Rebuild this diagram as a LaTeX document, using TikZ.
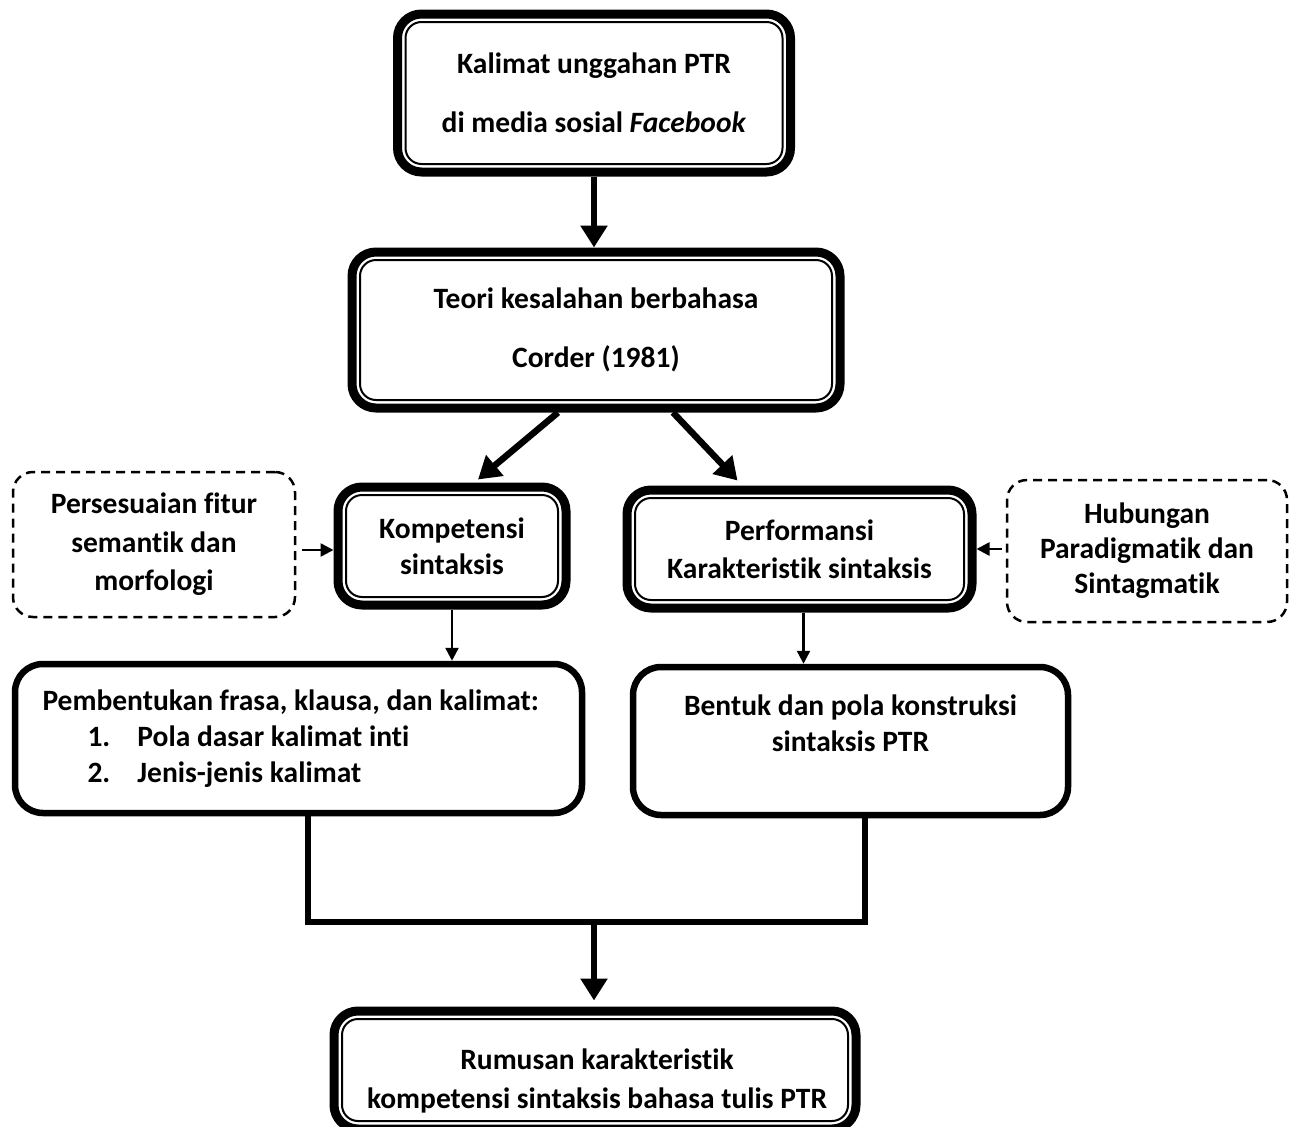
\documentclass[tikz,border=0pt]{standalone}
\usepackage{fontspec}
\setmainfont{Carlito}[Ligatures={NoCommon}]
\usetikzlibrary{arrows.meta,calc}
\newcommand\myfs[1]{\fontsize{29.5}{#1}\selectfont\bfseries}
\begin{document}
\begin{tikzpicture}[x=1pt,y=-1pt,
  dbl/.style={draw, line width=9pt, rounded corners=24pt, inner sep=0pt, align=center},
  plainbox/.style={draw, line width=6.5pt, rounded corners=28pt, inner sep=0pt},
  dashbox/.style={draw, line width=2.5pt, dash pattern=on 9pt off 6pt, rounded corners=20pt, inner sep=0pt, align=center},
  innerline/.style={line width=2pt, rounded corners=16pt},
  bigarrow/.style={line width=6.5pt, -{Triangle[length=22pt,width=26pt]}},
  smallarrow/.style={line width=2.5pt, -{Triangle[length=13pt,width=13pt]}},
  bracket/.style={line width=6.5pt},
]
\useasboundingbox (0,0) rectangle (1299,1127);

% boxes
\node[dbl, minimum width=393pt, minimum height=158pt, font=\myfs{59}] (k1) at (594,93)
  {Kalimat unggahan PTR\\di media sosial \textit{Facebook}};
\node[dbl, minimum width=488pt, minimum height=156pt, font=\myfs{59}] (k2) at (596,330)
  {Teori kesalahan berbahasa\\Corder (1981)};
\node[dbl, minimum width=228pt, minimum height=118pt, font=\myfs{36}] (kom) at (452,546)
  {Kompetensi\\sintaksis};
\node[dbl, minimum width=345pt, minimum height=118pt, font=\myfs{38}] (perf) at (799.5,549)
  {Performansi\\Karakteristik sintaksis};
\node[dashbox, minimum width=282pt, minimum height=145pt, font=\myfs{38.5}] (dl) at (154,544.5)
  {Persesuaian fitur\\semantik dan\\morfologi};
\node[dashbox, minimum width=280pt, minimum height=142pt, font=\myfs{35}] (dr) at (1147,551)
  {Hubungan\\Paradigmatik dan\\Sintagmatik};
\node[plainbox, minimum width=567pt, minimum height=149pt, text width=512pt, align=flush left, font=\myfs{36}] (pemb) at (298.5,738.5)
  {Pembentukan frasa, klausa, dan kalimat:\\
   \hspace*{45pt}\makebox[50pt][l]{1.}Pola dasar kalimat inti\\
   \hspace*{45pt}\makebox[50pt][l]{2.}Jenis-jenis kalimat};
\node[plainbox, minimum width=435pt, minimum height=148pt, align=center, font=\myfs{36}] (bent) at (850.5,741)
  {Bentuk dan pola konstruksi\\sintaksis PTR\\\mbox{}};
\node[dbl, minimum width=522pt, minimum height=118pt] (fin) at (595,1070) {};
\node[font=\myfs{39}, align=center, inner sep=0pt] (fintext) at (597,1081)
  {Rumusan karakteristik\\kompetensi sintaksis bahasa tulis PTR};

% inner lines of the double borders
\foreach \n in {k1,k2,kom,perf,fin}
  \draw[innerline] ($(\n.north west)+(12.5pt,-12.5pt)$) rectangle ($(\n.south east)+(-12.5pt,12.5pt)$);

% connectors
\draw[bigarrow] (k1.south) -- (k1.south |- k2.north);
\draw[bigarrow] ($(k2.south)+(-38pt,0pt)$) -- ($(kom.north)+(26pt,3pt)$);
\draw[bigarrow] ($(k2.south)+(77pt,0pt)$) -- ($(perf.north)+(-62pt,5pt)$);
\draw[smallarrow] ($(dl.east |- kom.west)+(6pt,-4pt)$) -- ($(kom.west)+(0pt,-4pt)$);
\draw[smallarrow] ($(dr.west |- perf.east)+(-4pt,0pt)$) -- (perf.east);
\draw[smallarrow] (kom.south) -- (kom.south |- pemb.north);
\coordinate (pa) at ($(perf.south)+(4pt,0pt)$);
\draw[smallarrow] (pa) -- (pa |- bent.north);

\coordinate (jl) at (308,922);
\coordinate (jr) at (865,922);
\coordinate (jm) at (594,922);
\draw[bracket] (jl |- pemb.south) -- (jl) -- (jr) -- (jr |- bent.south);
\draw[bigarrow] (jm) -- ($(jm |- fin.north)+(0pt,6pt)$);
\end{tikzpicture}
\end{document}
